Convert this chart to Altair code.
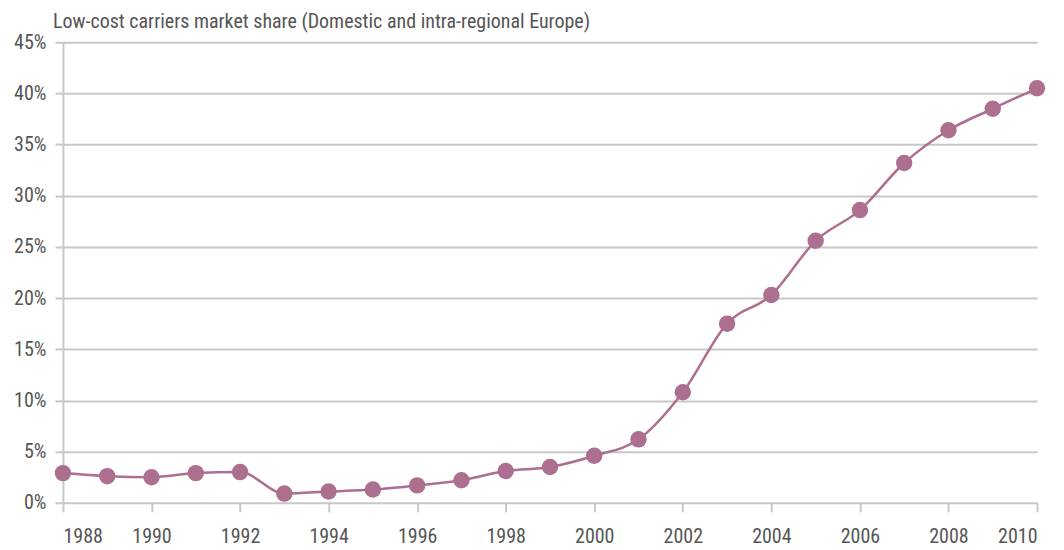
import altair as alt
import pandas as pd

years = list(range(1988, 2011))
share = [2.9, 2.6, 2.5, 2.9, 3.0, 0.9, 1.1, 1.3, 1.7, 2.2, 3.1, 3.5, 4.6, 6.2,
         10.8, 17.5, 20.3, 25.6, 28.6, 33.2, 36.4, 38.5, 40.5]

df = pd.DataFrame({"year": years, "share": [v / 100 for v in share]})

FONT = "Roboto Condensed, Liberation Sans Narrow, Arial Narrow, Roboto, sans-serif"
COLOR = "#ad6f8f"
TXT = "#555555"

x = alt.X("year:Q", scale=alt.Scale(domain=[1988, 2010], nice=False, zero=False),
          axis=alt.Axis(values=list(range(1988, 2011, 2)), format="d", title=None,
                        grid=False, domain=False, tickColor="#c8c8c8", tickWidth=2,
                        tickSize=9, labelPadding=15, labelFontSize=20,
                        labelColor=TXT, labelFont=FONT))
y = alt.Y("share:Q", scale=alt.Scale(domain=[0, 0.45], nice=False),
          axis=alt.Axis(values=[i / 100 for i in range(0, 46, 5)], format=".0%",
                        title=None, grid=True, gridColor="#c8c8c8", gridWidth=2,
                        domainColor="#c8c8c8", domainWidth=2, tickColor="#c8c8c8",
                        tickWidth=2, tickSize=8, labelPadding=9, labelFontSize=20,
                        labelColor=TXT, labelFont=FONT))

base = alt.Chart(df)
line = base.mark_line(color=COLOR, strokeWidth=2.5, interpolate="monotone").encode(x=x, y=y)
pts = base.mark_circle(color=COLOR, opacity=1, size=270).encode(x="year:Q", y="share:Q")

chart = (line + pts).properties(
    width=975, height=461,
    title=alt.TitleParams("Low-cost carriers market share (Domestic and intra-regional Europe)",
                          anchor="start", frame="group", dx=-10, fontSize=20,
                          fontWeight="normal", color=TXT, font=FONT, offset=0),
    padding={"left": 5, "top": 4, "right": 10, "bottom": 0},
).configure_view(stroke=None)

chart.save("out.html", embed_options={"renderer": "svg", "actions": False})
